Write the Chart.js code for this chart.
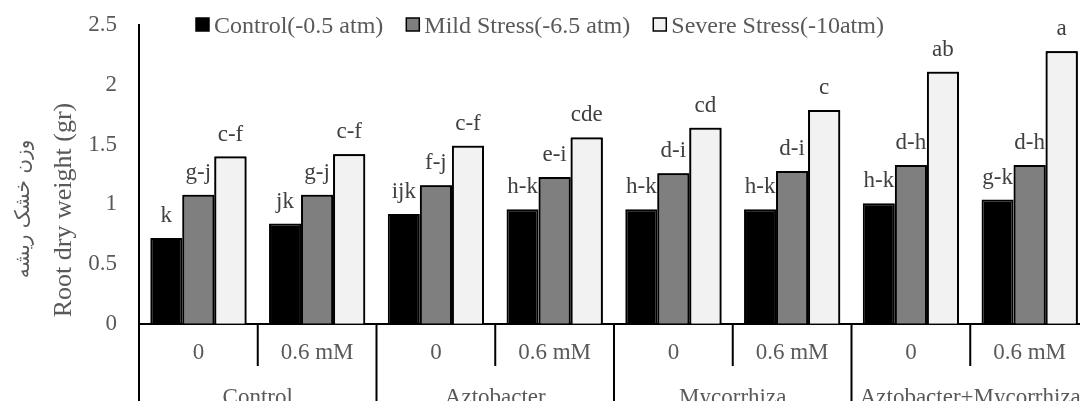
<!DOCTYPE html>
<html>
<head>
<meta charset="utf-8">
<script src="https://cdn.jsdelivr.net/npm/chart.js@4.4.0/dist/chart.umd.min.js"></script>
<style>
  html, body { margin: 0; padding: 0; background: #fff; overflow: hidden; }
  #wrap { width: 1080px; height: 401px; overflow: hidden; }
  canvas { display: block; }
</style>
</head>
<body>
<div id="wrap"><canvas id="rootChart" width="1090" height="401"></canvas></div>
<script>
// datos
const subLabels = ['0', '0.6 mM', '0', '0.6 mM', '0', '0.6 mM', '0', '0.6 mM'];
const groupLabels = ['Control', 'Aztobacter', 'Mycorrhiza', 'Aztobacter+Mycorrhiza'];
const seriesNames = ['Control(-0.5 atm)', 'Mild Stress(-6.5 atm)', 'Severe Stress(-10atm)'];
const controlValues = [0.72, 0.84, 0.92, 0.96, 0.96, 0.96, 1.01, 1.04];
const mildValues = [1.08, 1.08, 1.16, 1.23, 1.26, 1.28, 1.33, 1.33];
const severeValues = [1.40, 1.42, 1.49, 1.56, 1.64, 1.79, 2.11, 2.28];
const controlLetters = ['k', 'jk', 'ijk', 'h-k', 'h-k', 'h-k', 'h-k', 'g-k'];
const mildLetters = ['g-j', 'g-j', 'f-j', 'e-i', 'd-i', 'd-i', 'd-h', 'd-h'];
const severeLetters = ['c-f', 'c-f', 'c-f', 'cde', 'cd', 'c', 'ab', 'a'];
const yTicks = [0, 0.5, 1, 1.5, 2, 2.5];
const yTitle = 'Root dry weight (gr)';
const yTitleFa = 'وزن خشک ریشه';

const serif = "'Liberation Serif', 'Times New Roman', serif";
const textGray = '#595959';
const letters = [controlLetters, mildLetters, severeLetters];

// etiquetas de letras; se redibujan las barras siguientes encima (como en Excel)
const letterPlugin = {
  id: 'letterPlugin',
  afterDatasetsDraw(chart) {
    const ctx = chart.ctx;
    const n = chart.data.datasets.length;
    for (let d = 0; d < n; d++) {
      const meta = chart.getDatasetMeta(d);
      ctx.save();
      ctx.font = '23px ' + serif;
      ctx.fillStyle = '#404040';
      ctx.textAlign = 'center';
      ctx.textBaseline = 'alphabetic';
      meta.data.forEach((bar, i) => {
        ctx.fillText(letters[d][i], bar.x, bar.y - 16);
      });
      ctx.restore();
      for (let k = d + 1; k < n; k++) {
        chart.getDatasetMeta(k).data.forEach(bar => bar.draw(ctx));
      }
    }
  }
};

// leyenda, titulos, separadores y grupos del eje x
const decoPlugin = {
  id: 'decoPlugin',
  afterDraw(chart) {
    const ctx = chart.ctx;
    const area = chart.chartArea;
    const xs = chart.scales.x;

    // separadores debajo del eje
    ctx.save();
    ctx.strokeStyle = '#000';
    ctx.lineWidth = 2;
    ctx.beginPath();
    ctx.moveTo(area.left, area.top);
    ctx.lineTo(area.left, 401);
    for (let i = 0; i < subLabels.length - 1; i++) {
      const x = (xs.getPixelForValue(i) + xs.getPixelForValue(i + 1)) / 2;
      ctx.moveTo(x, area.bottom);
      ctx.lineTo(x, i % 2 === 1 ? 401 : area.bottom + 42);
    }
    ctx.stroke();
    ctx.restore();

    // nombres de grupo
    ctx.save();
    ctx.font = '23px ' + serif;
    ctx.fillStyle = textGray;
    ctx.textAlign = 'center';
    ctx.textBaseline = 'alphabetic';
    groupLabels.forEach((g, i) => {
      const x = (xs.getPixelForValue(2 * i) + xs.getPixelForValue(2 * i + 1)) / 2;
      ctx.fillText(g, x, 404);
    });
    ctx.restore();

    // titulos del eje y
    ctx.save();
    ctx.fillStyle = textGray;
    ctx.textAlign = 'center';
    ctx.textBaseline = 'middle';
    ctx.translate(64, 210);
    ctx.rotate(-Math.PI / 2);
    ctx.font = '26px ' + serif;
    ctx.fillText(yTitle, 0, 0);
    ctx.restore();

    ctx.save();
    ctx.fillStyle = textGray;
    ctx.textAlign = 'center';
    ctx.textBaseline = 'middle';
    ctx.translate(24, 209);
    ctx.rotate(-Math.PI / 2);
    ctx.font = "20px 'DejaVu Sans', sans-serif";
    ctx.fillText(yTitleFa, 0, 0);
    ctx.restore();

    // leyenda
    ctx.save();
    ctx.font = '24px ' + serif;
    ctx.textBaseline = 'alphabetic';
    let x = 196;
    chart.data.datasets.forEach(ds => {
      ctx.fillStyle = ds.backgroundColor;
      ctx.fillRect(x, 18, 13, 13);
      ctx.strokeStyle = '#000';
      ctx.lineWidth = 1.5;
      ctx.strokeRect(x, 18, 13, 13);
      ctx.fillStyle = textGray;
      ctx.fillText(ds.label, x + 18, 33);
      x += 18 + ctx.measureText(ds.label).width + 23;
    });
    ctx.restore();
  }
};

const barStyle = { borderColor: '#000', borderWidth: 2, categoryPercentage: 0.81, barPercentage: 1 };

new Chart(document.getElementById('rootChart'), {
  type: 'bar',
  data: {
    labels: subLabels,
    datasets: [
      { label: seriesNames[0], data: controlValues, backgroundColor: '#000000', ...barStyle },
      { label: seriesNames[1], data: mildValues, backgroundColor: '#7f7f7f', ...barStyle },
      { label: seriesNames[2], data: severeValues, backgroundColor: '#f2f2f2', ...barStyle }
    ]
  },
  options: {
    responsive: false,
    animation: false,
    layout: { padding: { top: 25, right: 1, left: 0, bottom: 0 } },
    plugins: {
      legend: { display: false },
      tooltip: { enabled: false }
    },
    scales: {
      x: {
        grid: { display: false, drawTicks: false },
        border: { display: true, color: '#000', width: 2 },
        ticks: { font: { family: serif, size: 23 }, color: textGray, padding: 15, maxRotation: 0, autoSkip: false },
        afterFit(scale) { scale.height = 77; }
      },
      y: {
        min: 0,
        max: 2.5,
        grid: { display: true, drawOnChartArea: false, drawTicks: true, tickLength: 22, tickColor: 'rgba(0,0,0,0)' },
        border: { display: true, color: '#000', width: 2 },
        ticks: { font: { family: serif, size: 23 }, color: textGray, padding: 0, callback: v => String(v) },
        afterBuildTicks(scale) { scale.ticks = yTicks.map(v => ({ value: v })); },
        afterFit(scale) { scale.width = 139; }
      }
    }
  },
  plugins: [letterPlugin, decoPlugin]
});
</script>
</body>
</html>
